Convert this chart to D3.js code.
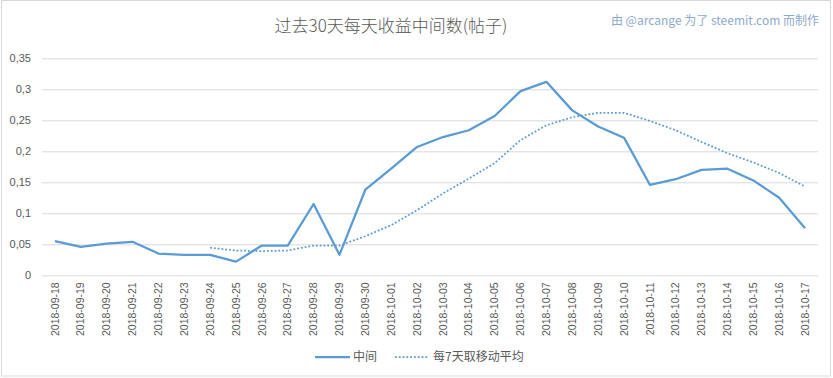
<!DOCTYPE html>
<html lang="zh">
<head>
    <meta charset="UTF-8">
    <title>过去30天每天收益中间数(帖子)</title>
    <script src="https://cdn.jsdelivr.net/npm/d3@7/dist/d3.min.js"></script>
    <style>
        body { margin: 0; background: #fff; }
        text { font-family: "Liberation Sans", "Noto Sans CJK SC", sans-serif; fill: #595959; }
        .cjk { font-family: "Noto Sans CJK SC", sans-serif; }
        .grid line { stroke: #d9d9d9; }
        .grid path { display: none; }
    </style>
</head>
<body>
    <svg width="833" height="378"></svg>
    <script>
        var dates = ['2018-09-18', '2018-09-19', '2018-09-20', '2018-09-21', '2018-09-22', '2018-09-23',
            '2018-09-24', '2018-09-25', '2018-09-26', '2018-09-27', '2018-09-28', '2018-09-29',
            '2018-09-30', '2018-10-01', '2018-10-02', '2018-10-03', '2018-10-04', '2018-10-05',
            '2018-10-06', '2018-10-07', '2018-10-08', '2018-10-09', '2018-10-10', '2018-10-11',
            '2018-10-12', '2018-10-13', '2018-10-14', '2018-10-15', '2018-10-16', '2018-10-17'];

        // 中间
        var median = [0.055, 0.046, 0.051, 0.054, 0.035, 0.033,
            0.033, 0.022, 0.048, 0.048, 0.115, 0.033,
            0.138, 0.172, 0.207, 0.223, 0.234, 0.257,
            0.297, 0.312, 0.266, 0.240, 0.222, 0.146,
            0.155, 0.170, 0.172, 0.153, 0.125, 0.076];

        // 每7天取移动平均 (starts at 2018-09-24)
        var movingAvg = [null, null, null, null, null, null,
            0.0445, 0.040, 0.039, 0.040, 0.048, 0.048,
            0.063, 0.081, 0.105, 0.132, 0.156, 0.181,
            0.218, 0.242, 0.255, 0.262, 0.262, 0.249,
            0.234, 0.215, 0.197, 0.182, 0.165, 0.143];

        var yTicks = [0, 0.05, 0.1, 0.15, 0.2, 0.25, 0.3, 0.35];

        var svg = d3.select('svg'),
            blue = '#5b9bd5',
            plot = { left: 42, right: 818, top: 58.3, bottom: 275.3 };

        var fmt = d3.formatLocale({ decimal: ',', thousands: '.', grouping: [3], currency: ['', ''] }).format('.2~f');

        var xScale = d3.scaleBand().domain(dates).range([plot.left, plot.right]).padding(0),
            yScale = d3.scaleLinear().domain([0, 0.35]).range([plot.bottom, plot.top]);

        // chart border
        svg.append('rect')
            .attr('x', 1.5).attr('y', 0.5)
            .attr('width', 829).attr('height', 375.5)
            .attr('fill', 'none')
            .attr('stroke', '#d9d9d9');

        // gridlines + y labels
        var yAxis = d3.axisLeft(yScale)
            .tickValues(yTicks)
            .tickFormat(fmt)
            .tickSize(-(plot.right - plot.left))
            .tickPadding(11);

        svg.append('g')
            .attr('class', 'grid')
            .attr('transform', 'translate(' + plot.left + ',0)')
            .call(yAxis)
            .call(function(g) {
                g.selectAll('text').attr('font-size', 11).style('font-family', '"Liberation Sans", sans-serif');
            });

        // x labels
        var xAxis = d3.axisBottom(xScale).tickSize(0).tickPadding(0);
        svg.append('g')
            .attr('transform', 'translate(0,' + plot.bottom + ')')
            .call(xAxis)
            .call(function(g) {
                g.select('.domain').remove();
                g.selectAll('text')
                    .attr('font-size', 10.5)
                    .attr('text-anchor', 'end')
                    .attr('transform', 'rotate(-90)')
                    .attr('x', -7)
                    .attr('y', 0)
                    .attr('dy', '0.35em');
            });

        var line = d3.line()
            .defined(function(d) { return d != null; })
            .x(function(d, i) { return xScale(dates[i]) + xScale.bandwidth() / 2; })
            .y(function(d) { return yScale(d); });

        svg.append('path')
            .datum(movingAvg)
            .attr('d', line)
            .attr('fill', 'none')
            .attr('stroke', blue)
            .attr('stroke-width', 1.75)
            .attr('stroke-dasharray', '1.8 2');

        svg.append('path')
            .datum(median)
            .attr('d', line)
            .attr('fill', 'none')
            .attr('stroke', blue)
            .attr('stroke-width', 2.25)
            .attr('stroke-linejoin', 'round');

        // title
        svg.append('text')
            .attr('class', 'cjk')
            .attr('x', 391).attr('y', 26)
            .attr('dy', '0.35em')
            .attr('text-anchor', 'middle')
            .attr('font-size', 17)
            .style('font-weight', 300)
            .text('过去30天每天收益中间数(帖子)');

        svg.append('text')
            .attr('class', 'cjk')
            .attr('x', 819).attr('y', 21)
            .attr('dy', '0.35em')
            .attr('text-anchor', 'end')
            .attr('font-size', 12)
            .style('fill', '#8eaacb')
            .text('由 @arcange 为了 steemit.com 而制作');

        // legend
        var legend = svg.append('g').attr('transform', 'translate(0,357)');
        legend.append('line')
            .attr('x1', 315).attr('x2', 350)
            .attr('stroke', blue).attr('stroke-width', 2.25);
        legend.append('text')
            .attr('class', 'cjk')
            .attr('x', 353).attr('dy', '0.35em')
            .attr('font-size', 12)
            .text('中间');
        legend.append('line')
            .attr('x1', 395).attr('x2', 429)
            .attr('stroke', blue).attr('stroke-width', 1.75)
            .attr('stroke-dasharray', '1.8 2');
        legend.append('text')
            .attr('class', 'cjk')
            .attr('x', 433).attr('dy', '0.35em')
            .attr('font-size', 12)
            .text('每7天取移动平均');
    </script>
</body>
</html>
